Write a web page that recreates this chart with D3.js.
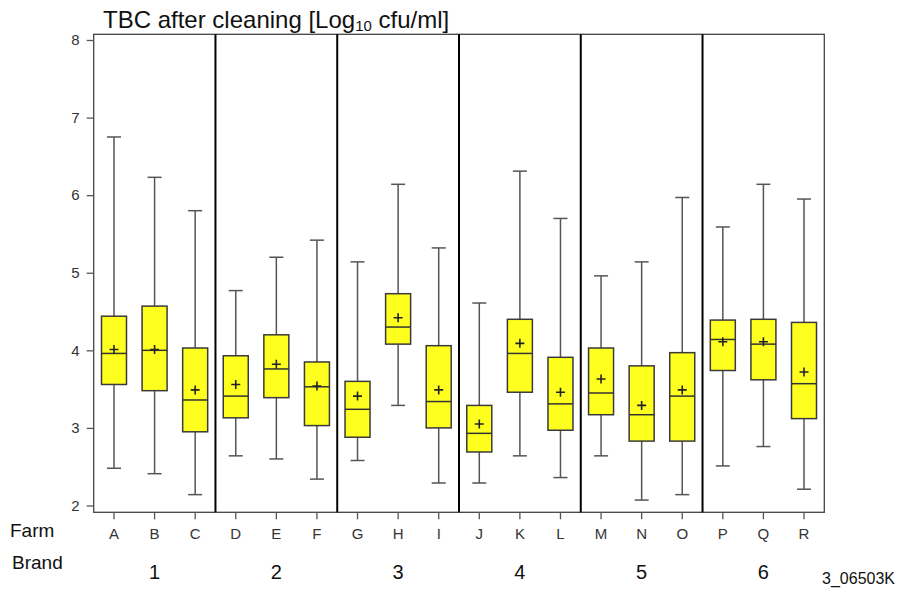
<!DOCTYPE html>
<html>
<head>
<meta charset="utf-8">
<script src="https://cdn.jsdelivr.net/npm/d3@7"></script>
<style>
  body { margin: 0; background: #fff; }
  svg { display: block; font-family: "Liberation Sans", Arial, sans-serif; }
</style>
</head>
<body>
<svg id="chart"></svg>
<script>
// data
const farms = ['A','B','C','D','E','F','G','H','I','J','K','L','M','N','O','P','Q','R']
const brands = ['1','2','3','4','5','6']
const whiskerLow  = [2.48,2.41,2.14,2.64,2.60,2.34,2.58,3.29,2.29,2.29,2.64,2.36,2.64,2.07,2.14,2.51,2.76,2.21]
const q1          = [3.56,3.48,2.95,3.13,3.39,3.03,2.88,4.08,3.00,2.69,3.46,2.97,3.17,2.83,2.83,3.74,3.62,3.12]
const median      = [3.96,4.00,3.36,3.41,3.76,3.53,3.24,4.30,3.34,2.93,3.96,3.31,3.45,3.17,3.41,4.14,4.08,3.57]
const q3          = [4.44,4.57,4.03,3.93,4.20,3.85,3.60,4.73,4.06,3.29,4.40,3.91,4.03,3.80,3.97,4.39,4.40,4.36]
const whiskerHigh = [6.75,6.23,5.80,4.77,5.20,5.42,5.14,6.14,5.32,4.61,6.31,5.70,4.96,5.14,5.97,5.59,6.14,5.95]
const mean        = [4.01,4.01,3.49,3.56,3.82,3.54,3.41,4.42,3.49,3.05,4.09,3.46,3.63,3.29,3.49,4.11,4.11,3.72]
const yTicks = [2,3,4,5,6,7,8]

const width = 899
const height = 589
const plot = {left: 93.7, right: 824.3, top: 34.3, bottom: 512.3}

const svg = d3.select('#chart').attr('width', width).attr('height', height)

// 比例尺
const x = d3.scaleBand().domain(farms).range([plot.left, plot.right]).padding(0)
const y = d3.scaleLinear().domain([2, 8]).range([505.5, 40])

const boxW = 25
const capW = 14

const rows = farms.map((f, i) => ({
  farm: f, lo: whiskerLow[i], q1: q1[i], med: median[i], q3: q3[i], hi: whiskerHigh[i], mean: mean[i]
}))

// frame
svg.append('rect')
  .attr('x', plot.left).attr('y', plot.top)
  .attr('width', plot.right - plot.left).attr('height', plot.bottom - plot.top)
  .attr('fill', 'none').attr('stroke', '#444').attr('stroke-width', 1.3)

// brand separators
d3.range(1, brands.length).forEach(b => {
  const sx = x(farms[b * 3])
  svg.append('line')
    .attr('x1', sx).attr('x2', sx).attr('y1', plot.top).attr('y2', plot.bottom)
    .attr('stroke', '#000').attr('stroke-width', 2)
})

// y axis
const yAxis = d3.axisLeft(y).tickValues(yTicks).tickSize(7).tickPadding(7).tickFormat(d3.format('d'))
const gy = svg.append('g').attr('transform', `translate(${plot.left},0)`).call(yAxis)
gy.select('.domain').remove()
gy.selectAll('.tick line').attr('stroke', '#555').attr('stroke-width', 1.3)
gy.selectAll('.tick text').attr('font-size', 15).attr('fill', '#333')
  .attr('font-family', '"Liberation Sans", Arial, sans-serif')

// x axis
const xAxis = d3.axisBottom(x).tickSize(7).tickPadding(9)
const gx = svg.append('g').attr('transform', `translate(0,${plot.bottom})`).call(xAxis)
gx.select('.domain').remove()
gx.selectAll('.tick line').attr('stroke', '#555').attr('stroke-width', 1.3)
gx.selectAll('.tick text').attr('font-size', 15).attr('fill', '#333')
  .attr('font-family', '"Liberation Sans", Arial, sans-serif')

// boxes
const gs = svg.selectAll('.box').data(rows).enter().append('g').attr('class', 'box')
  .attr('transform', d => `translate(${x(d.farm) + x.bandwidth() / 2},0)`)

gs.append('line').attr('x1', 0).attr('x2', 0)
  .attr('y1', d => y(d.hi)).attr('y2', d => y(d.q3))
  .attr('stroke', '#555').attr('stroke-width', 1.5)
gs.append('line').attr('x1', 0).attr('x2', 0)
  .attr('y1', d => y(d.q1)).attr('y2', d => y(d.lo))
  .attr('stroke', '#555').attr('stroke-width', 1.5)
gs.append('line').attr('x1', -capW / 2).attr('x2', capW / 2)
  .attr('y1', d => y(d.hi)).attr('y2', d => y(d.hi))
  .attr('stroke', '#555').attr('stroke-width', 1.5)
gs.append('line').attr('x1', -capW / 2).attr('x2', capW / 2)
  .attr('y1', d => y(d.lo)).attr('y2', d => y(d.lo))
  .attr('stroke', '#555').attr('stroke-width', 1.5)

gs.append('rect')
  .attr('x', -boxW / 2).attr('width', boxW)
  .attr('y', d => y(d.q3)).attr('height', d => y(d.q1) - y(d.q3))
  .attr('fill', '#ffff1f').attr('stroke', '#3a3a3a').attr('stroke-width', 1.5)

gs.append('line').attr('x1', -boxW / 2).attr('x2', boxW / 2)
  .attr('y1', d => y(d.med)).attr('y2', d => y(d.med))
  .attr('stroke', '#333').attr('stroke-width', 1.5)

// mean markers
gs.append('path')
  .attr('d', d => `M-4.5,${y(d.mean)}H4.5M0,${y(d.mean) - 4.5}V${y(d.mean) + 4.5}`)
  .attr('stroke', '#222').attr('stroke-width', 1.6).attr('fill', 'none')

// brand labels
svg.selectAll('.brand').data(brands).enter().append('text').attr('class', 'brand')
  .attr('x', (d, i) => x(farms[i * 3 + 1]) + x.bandwidth() / 2)
  .attr('y', 579)
  .attr('text-anchor', 'middle').attr('font-size', 20).attr('fill', '#111')
  .text(d => d)

// row labels
svg.append('text').attr('x', 10).attr('y', 537).attr('font-size', 19).attr('fill', '#111').text('Farm')
svg.append('text').attr('x', 12).attr('y', 569).attr('font-size', 19).attr('fill', '#111').text('Brand')

// title
const title = svg.append('text').attr('x', 103).attr('y', 28).attr('font-size', 24).attr('fill', '#111')
title.append('tspan').text('TBC after cleaning [Log')
title.append('tspan').attr('font-size', 15).attr('dy', 3).text('10')
title.append('tspan').attr('dy', -3).text(' cfu/ml]')

// figure id
svg.append('text').attr('x', 895).attr('y', 584).attr('text-anchor', 'end')
  .attr('font-size', 16).attr('fill', '#111').text('3_06503K')
</script>
</body>
</html>
